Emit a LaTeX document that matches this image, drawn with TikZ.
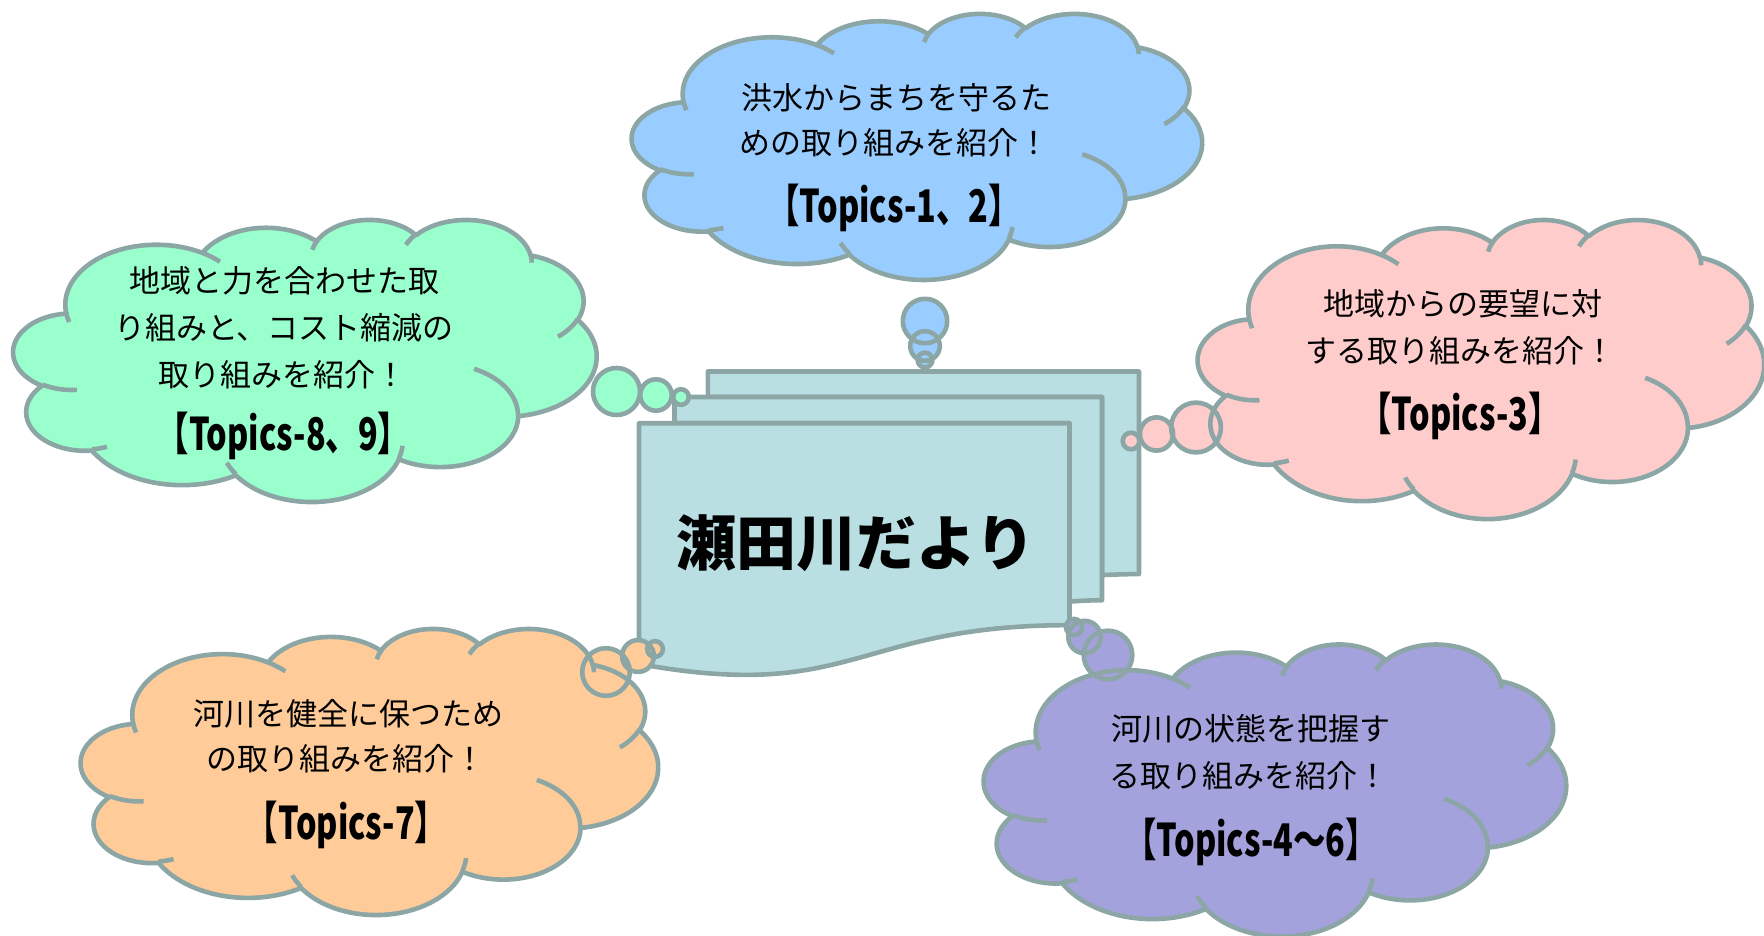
\documentclass[tikz,border=0pt]{standalone}
\usepackage{fontspec}
\newfontfamily\jp{Noto Sans CJK JP}
\definecolor{edge}{HTML}{8CA6A6}
\definecolor{docfill}{HTML}{B9DFE2}
\definecolor{cblue}{HTML}{99CCFF}
\definecolor{cgreen}{HTML}{99FFCC}
\definecolor{cpink}{HTML}{FFCCCC}
\definecolor{corange}{HTML}{FFCC99}
\definecolor{cpurple}{HTML}{A4A2DC}

\newcommand\va[4]{arc[start angle={vang(#1,#3,#4)}, end angle={vang(#1+#2,#3,#4)}, x radius=#3, y radius=#4]}
\newcommand\cloudpath{(3.9,14.37)
 \va{-190.4875}{123.7805}{6.753}{9.19}
 \va{-144.1024}{89.9452}{5.333}{7.267}
 \va{-145.8079}{99.7230}{4.365}{5.945}
 \va{-130.9861}{117.2417}{4.857}{6.595}
 \va{-78.7089}{109.0269}{5.333}{7.273}
 \va{-46.2673}{130.2690}{6.775}{9.22}
 \va{0.6250}{114.0333}{5.785}{7.867}
 \va{22.4516}{115.1726}{6.752}{9.215}
 \va{66.2426}{75.7110}{7.72}{10.543}
 \va{-274.9421}{146.7356}{4.36}{5.918}
 \va{-246.8285}{152.5189}{4.345}{5.945}
 -- cycle}
\newcommand\cloudinner{
 (4.693,26.177) \va{86.742}{26.4295}{4.345}{5.945}
 (6.928,34.899) \va{73.6105}{11.4475}{4.36}{5.918}
 (16.478,39.09) \va{137.6242}{14.0811}{6.752}{9.215}
 (28.827,34.751) \va{6.4533}{15.9984}{6.752}{9.215}
 (34.129,22.954) \va{-70.2924}{70.9174}{5.785}{7.867}
 (41.798,15.354) \va{30.3180}{27.7515}{5.333}{7.273}
 (38.324,5.426) \va{-13.7443}{14.8589}{4.857}{6.595}
 (29.078,3.952) \va{-149.1815}{18.1954}{4.857}{6.595}
 (22.141,4.72) \va{-163.4943}{17.6864}{4.365}{5.945}
 (14,5.192) \va{-66.707}{12.3194}{6.753}{9.19}
 (4.127,15.789) \va{157.6544}{11.8582}{6.753}{9.19}}

% #1 x0, #2 y0, #3 w, #4 h, #5 fill colour, #6 tail circles
\newcommand\drawcloud[6]{%
  \begin{scope}[shift={(#1,#2)}, xscale=#3/43.2, yscale=#4/43.2]
    \fill[#5] \cloudpath;
  \end{scope}
  \fill[#5] #6;
  \begin{scope}[shift={(#1,#2)}, xscale=#3/43.2, yscale=#4/43.2]
    \draw[outl] \cloudpath;
    \draw[outl] \cloudinner;
  \end{scope}
  \draw[outl] #6;
}
\newcommand\tpc[1]{\scalebox{0.72}[1]{#1}}

\begin{document}
\begin{tikzpicture}[x=1pt,y=-1pt,
  declare function={vang(\q,\ra,\rb)=atan2(\ra*sin(\q),\rb*cos(\q))+360*round((\q-atan2(\ra*sin(\q),\rb*cos(\q)))/360);},
  outl/.style={draw=edge, line width=4.6pt, line join=round},
  txt/.style={font=\jp\fontsize{31}{31}\selectfont, inner sep=0pt, text=black},
  topic/.style={font=\jp\bfseries\fontsize{45}{45}\selectfont, inner sep=0pt, text=black},
  title/.style={font=\jp\bfseries\fontsize{60}{60}\selectfont, inner sep=0pt, text=black}]
\useasboundingbox (0,0) rectangle (1764,936);

% ---- document stack ----
\begin{scope}[shift={(639,371.5)}, xscale=500/21.6, yscale=304/21.6]
  \filldraw[fill=docfill, outl] (2.972,1.815) -- (2.972,0) -- (21.6,0) -- (21.6,14.392)
     .. controls (20.947,14.392) and (20,14.467) .. (20,14.467) -- (20,1.815) -- cycle;
  \filldraw[fill=docfill, outl] (1.532,3.675) -- (1.532,1.815) -- (20,1.815) -- (20,16.252)
     .. controls (19.298,16.252) and (18.595,16.352) .. (18.595,16.352) -- (18.595,3.675) -- cycle;
  \filldraw[fill=docfill, outl] (0,20.782) .. controls (9.298,23.542) and (9.298,18.022) .. (18.595,18.022)
     -- (18.595,3.675) -- (0,3.675) -- cycle;
\end{scope}
\node[title] (ttl) at (856,543) {瀬田川だより};

% ---- clouds ----
\drawcloud{632}{13}{570}{266}{cblue}{(925,321) circle[radius=22.2] (925,346) circle[radius=14.8] (925,360) circle[radius=7.4]}
\drawcloud{13.5}{219}{583}{282}{cgreen}{(616.5,391.5) circle[radius=23.5] (656,395) circle[radius=15.7] (681,397) circle[radius=7.8]}
\drawcloud{1198}{219}{566}{299}{cpink}{(1196,427.5) circle[radius=24.9] (1156.5,434) circle[radius=16.6] (1131,441) circle[radius=8.3]}
\drawcloud{81}{628}{577}{286}{corange}{(606,672) circle[radius=23.8] (638,656) circle[radius=15.9] (655,649) circle[radius=7.9]}
\drawcloud{984}{643.5}{582}{292}{cpurple}{(1108,655) circle[radius=24.3] (1084.5,637) circle[radius=16.2] (1074,627) circle[radius=8.1]}

% ---- texts ----
\node[txt] (b1) at (896,98) {洪水からまちを守るた};
\node[txt] (b2) at (894,143) {めの取り組みを紹介！};
\node[topic] (b3) at (894,208) {\tpc{【Topics-1、2】}};

\node[txt] (g1) at (284,281) {地域と力を合わせた取};
\node[txt] (g2) at (284,328) {り組みと、コスト縮減の};
\node[txt] (g3) at (282,375) {取り組みを紹介！};
\node[topic] (g4) at (283.5,436) {\tpc{【Topics-8、9】}};

\node[txt] (p1) at (1463,304) {地域からの要望に対};
\node[txt] (p2) at (1460,351) {する取り組みを紹介！};
\node[topic] (p3) at (1460,416) {\tpc{【Topics-3】}};

\node[txt] (o1) at (348,714) {河川を健全に保つため};
\node[txt] (o2) at (346,759) {の取り組みを紹介！};
\node[topic] (o3) at (346.5,825) {\tpc{【Topics-7】}};

\node[txt] (u1) at (1251,729) {河川の状態を把握す};
\node[txt] (u2) at (1249,776) {る取り組みを紹介！};
\node[topic] (u3) at (1251,841.5) {\tpc{【Topics-4～6】}};
\end{tikzpicture}
\end{document}
